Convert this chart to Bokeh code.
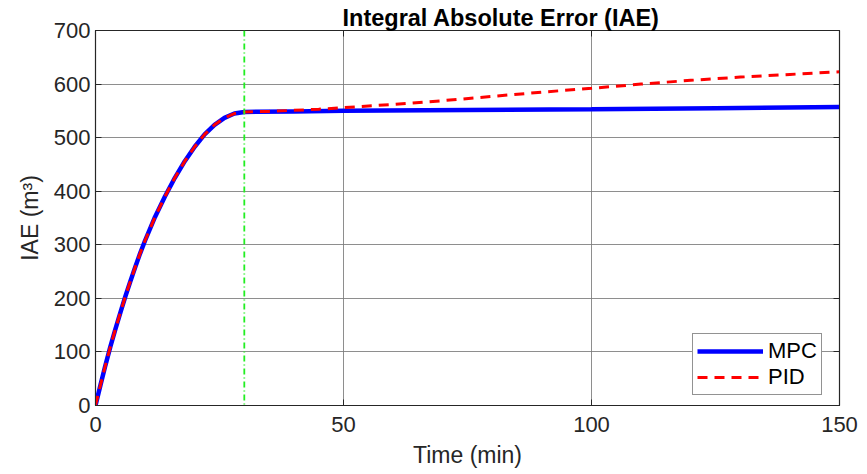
from bokeh.plotting import figure
from bokeh.models import Span, LinearAxis, Range1d, Legend, LegendItem, FixedTicker
from bokeh.embed import file_html
from bokeh.resources import INLINE

# Time (min) and IAE values (m^3)
t_rise = [0, 1, 2, 3, 4, 5, 6, 7, 8, 9, 10, 12, 14, 16, 18, 20, 22, 24, 26, 28, 30]
iae_rise = [0, 38, 75, 110, 142, 173, 203, 231, 258, 284, 308, 352, 390, 425, 456, 483, 506, 524, 537, 545, 548]

t_mpc_tail = [40, 50, 75, 100, 125, 150]
mpc_tail = [549, 550, 551.5, 553, 555, 557]

t_pid_tail = [35, 40, 45, 50, 60, 70, 80, 90, 100, 110, 120, 130, 140, 150]
pid_tail = [549, 551, 553, 556, 562, 569, 577, 585, 592, 600, 607, 613, 618, 623]

t_mpc = t_rise + t_mpc_tail
iae_mpc = iae_rise + mpc_tail
t_pid = t_rise + t_pid_tail
iae_pid = iae_rise + pid_tail

switch_time = 30
x_ticks = [0, 50, 100, 150]
y_ticks = [0, 100, 200, 300, 400, 500, 600, 700]

FONT = "Liberation Sans"
TXT = "#262626"

p = figure(width=867, height=474, output_backend="svg", toolbar_location=None,
           x_range=Range1d(0, 150), y_range=Range1d(0, 700),
           min_border_left=95, min_border_right=28, min_border_top=30, min_border_bottom=69)

p.title.text = "Integral Absolute Error (IAE)"
p.title.align = "left"
p.title.offset = 247
p.title.text_font = FONT
p.title.text_font_size = "23.5px"
p.title.text_font_style = "bold"
p.title.text_color = "#000000"
p.title.standoff = 0

p.outline_line_color = TXT
p.outline_line_width = 1.2

for ax in (p.xaxis[0], p.yaxis[0]):
    ax.major_label_text_font = FONT
    ax.major_label_text_font_size = "22px"
    ax.major_label_text_color = TXT
    ax.axis_label_text_font = FONT
    ax.axis_label_text_font_size = "23px"
    ax.axis_label_text_font_style = "normal"
    ax.axis_label_text_color = TXT
    ax.axis_line_color = TXT
    ax.major_tick_line_color = TXT
    ax.major_tick_in = 6
    ax.major_tick_out = 0
    ax.minor_tick_line_color = None

p.xaxis[0].ticker = FixedTicker(ticks=x_ticks)
p.yaxis[0].ticker = FixedTicker(ticks=y_ticks)
p.xaxis[0].axis_label = "Time (min)"
p.yaxis[0].axis_label = "IAE (m³)"
p.xaxis[0].major_label_standoff = 11
p.yaxis[0].major_label_standoff = 5
p.xaxis[0].axis_label_standoff = 7
p.yaxis[0].axis_label_standoff = 8

for loc in ("right", "above"):
    ticks = y_ticks if loc == "right" else x_ticks
    ax = LinearAxis(ticker=FixedTicker(ticks=ticks),
                    major_label_overrides={v: "" for v in ticks},
                    major_tick_in=6, major_tick_out=0,
                    minor_tick_line_color=None, axis_line_color=TXT, major_tick_line_color=TXT,
                    major_label_standoff=0)
    p.add_layout(ax, loc)

p.xgrid.ticker = FixedTicker(ticks=x_ticks)
p.ygrid.ticker = FixedTicker(ticks=y_ticks)
p.grid.grid_line_color = "#7a7a7a"
p.grid.grid_line_alpha = 0.85
p.grid.grid_line_width = 1

sp = Span(location=switch_time, dimension="height", line_color="#22ee22",
          line_width=1.8, line_dash="6 3 1 3")
p.add_layout(sp)

r_mpc = p.line(t_mpc, iae_mpc, line_color="#0000ff", line_width=4.5)
r_pid = p.line(t_pid, iae_pid, line_color="#ff0000", line_width=3, line_dash="10 7")

legend = Legend(items=[LegendItem(label="MPC", renderers=[r_mpc]),
                       LegendItem(label="PID", renderers=[r_pid])],
                location=(597, 10))
legend.label_text_font = FONT
legend.label_text_font_size = "22px"
legend.label_text_color = "#000000"
legend.border_line_color = TXT
legend.border_line_width = 1
legend.background_fill_color = "white"
legend.background_fill_alpha = 1
legend.glyph_width = 66
legend.glyph_height = 24
legend.label_height = 24
legend.spacing = 0
legend.padding = 4
legend.margin = 0
legend.label_standoff = 5
p.add_layout(legend)

open("out.html", "w").write(file_html(p, INLINE))
